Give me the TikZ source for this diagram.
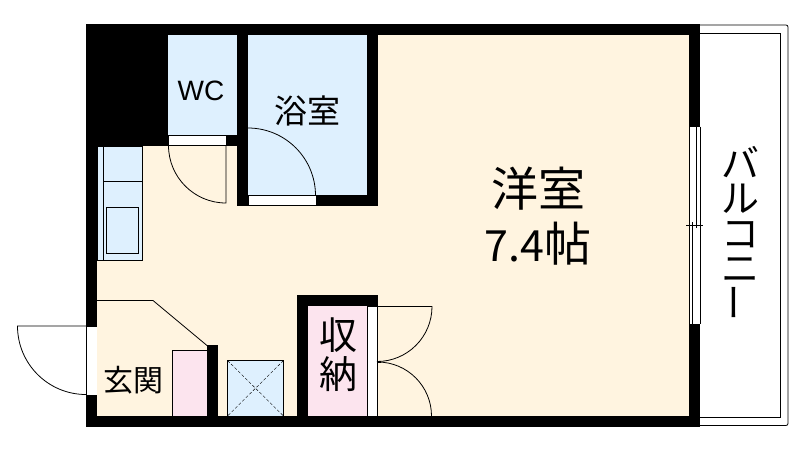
\documentclass[tikz,border=0pt]{standalone}
\usepackage{xcolor}
\usepackage{fontspec}
\setmainfont{Liberation Sans}
\newfontfamily\cjk{Noto Sans CJK JP}
\definecolor{roomcream}{RGB}{255, 244, 224}
\definecolor{wetblue}{RGB}{222, 240, 254}
\definecolor{storepink}{RGB}{252, 228, 238}
\tikzset{
    wall/.style={fill=black, draw=none},
    opening/.style={fill=white, draw=black, line width=0.8pt},
    fixture/.style={draw=black, line width=0.9pt},
    thin line/.style={draw=black, line width=0.8pt},
    label/.style={inner sep=0pt, align=center, text=black}
}

\begin{document}
\begin{tikzpicture}[x=1pt, y=-1pt]
    \useasboundingbox (0,0) rectangle (800,451);

    % floor colours
    \fill[roomcream] (97,35) rectangle (689,416);
    \fill[wetblue] (168,35) rectangle (237,135);
    \fill[wetblue] (248,35) rectangle (367,195);
    \fill[storepink] (308,306) rectangle (367,416);

    % balcony
    \draw[thin line, rounded corners=2pt] (700,25) -- (788,25) -- (788,425.5) -- (700,425.5);
    \draw[thin line] (700,33.5) -- (780,33.5) -- (780,417) -- (700,417);

    % walls
    \fill[wall] (86,24) rectangle (700,35);
    \fill[wall] (86,416) rectangle (700,427);
    \fill[wall] (86,24) rectangle (97,427);
    \fill[wall] (689,24) rectangle (700,427);
    \fill[wall] (86,24) rectangle (168,146);
    \fill[wall] (226,135) rectangle (248,146);
    \fill[wall] (237,24) rectangle (248,206);
    \fill[wall] (367,24) rectangle (378,206);
    \fill[wall] (316,195) rectangle (378,206);
    \fill[wall] (297,295) rectangle (378,306);
    \fill[wall] (297,295) rectangle (308,416);
    \fill[wall] (207,345) rectangle (218,416);

    % openings
    \draw[opening] (168.5,135) rectangle (226,145.5);
    \draw[opening] (248,195) rectangle (316,205.5);
    \fill[white] (86.5,326) rectangle (97,395);
    \draw[thin line] (86.5,326) -- (97,326) (86.5,395) -- (97,395);
    \draw[opening] (367,306) rectangle (377.5,416);

    % window to the balcony
    \fill[white] (689,126.5) rectangle (701,324);
    \draw[thin line] (689.5,126.5) -- (689.5,324) (692.3,222) -- (692.3,324)
        (696.4,126.5) -- (696.4,228) (700,126.5) -- (700,324);
    \draw[thin line] (686,225.5) -- (703,225.5);

    % kitchen
    \draw[fixture, fill=wetblue] (97,146) rectangle (142.5,260);
    \draw[fixture] (103.5,146) -- (103.5,260) (103.5,181.5) -- (142.5,181.5);
    \draw[fixture] (106.5,207.5) rectangle (138.5,253.5);

    % entrance
    \draw[thin line] (97,300.5) -- (153,300.5) -- (207,345.5);
    \draw[fixture, fill=storepink] (172.5,350.5) rectangle (207,416);
    \draw[thin line] (86,326) -- (17.5,326) arc[start angle=180, end angle=90, radius=68.5];

    % pipe shaft
    \draw[fixture, fill=wetblue] (227.5,360.5) rectangle (283.5,416);
    \draw[densely dashed, line width=0.4pt] (227.5,360.5) -- (283.5,416) (283.5,360.5) -- (227.5,416);

    % doors
    \draw[thin line] (226,146) -- (226,203) arc[start angle=90, end angle=180, radius=57.5];
    \draw[thin line] (248,128) arc[start angle=-90, end angle=0, radius=67.5];
    \draw[thin line] (377.5,306.5) -- (432,306.5) arc[start angle=0, end angle=90, radius=55];
    \draw[thin line] (377.5,362) arc[start angle=-90, end angle=0, radius=54];
    \draw[line width=1.6pt] (376.5,362) -- (381,362);

    % labels
    \node[label, font=\fontsize{28}{28}\selectfont] (wc) at (201,91) {WC};
    \node[label, font=\cjk\fontsize{33}{33}\selectfont] (bath) at (307.5,111) {浴室};
    \node[label, font=\cjk\fontsize{47}{56}\selectfont] (room) at (538,216) {洋室\\[-1pt]{\fontsize{43}{56}\selectfont 7.4}帖};
    \node[label, font=\cjk\fontsize{30}{30}\selectfont] (entry) at (133,380) {玄関};
    \node[label, font=\cjk\fontsize{38}{39}\selectfont] (closet) at (338,355) {収\\納};
    \node[label, font=\cjk\fontsize{38}{35}\selectfont] (balcony) at (740.5,234) {バ\\ル\\コ\\ニ\\\rotatebox{90}{ー}};
\end{tikzpicture}
\end{document}
